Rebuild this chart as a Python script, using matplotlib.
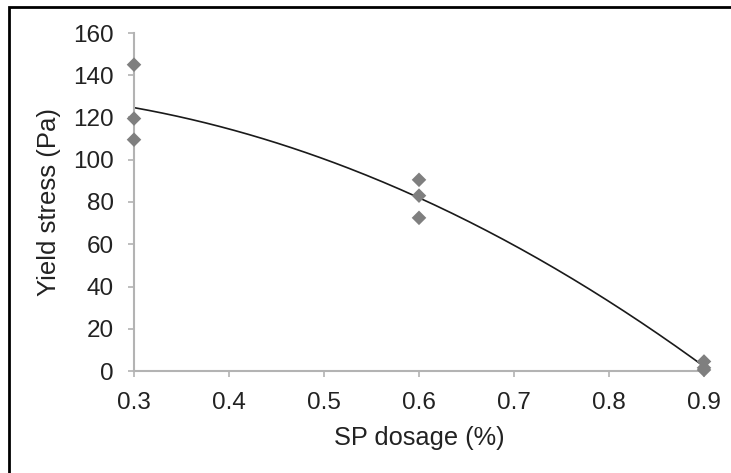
import numpy as np
import matplotlib
matplotlib.use("Agg")
import matplotlib.pyplot as plt
from matplotlib.patches import Rectangle

plt.rcParams['font.family'] = ['Liberation Sans', 'DejaVu Sans']

# measured points
sp_dosage = [0.3, 0.3, 0.3, 0.6, 0.6, 0.6, 0.9, 0.9, 0.9]
yield_stress = [145, 119.5, 109.5, 90.5, 83, 72.5, 4.5, 1.5, 0.5]

x_ticks = [0.3, 0.4, 0.5, 0.6, 0.7, 0.8, 0.9]
y_ticks = [0, 20, 40, 60, 80, 100, 120, 140, 160]

grey_axis = '#b3b3b3'
txt = '#222222'

fig = plt.figure(figsize=(7.31, 4.73), dpi=100)
ax = fig.add_axes([134 / 731, 1 - 371 / 473, (704 - 134) / 731, (371 - 33) / 473])

# polynomial (order 2) trendline, as in the spreadsheet
coef = np.polyfit(sp_dosage, yield_stress, 2)
xs = np.linspace(0.3, 0.9, 200)
ax.plot(xs, np.polyval(coef, xs), color='#1a1a1a', lw=1.2, zorder=2)

ax.scatter(sp_dosage, yield_stress, marker='D', s=55, color='#7f7f7f',
           edgecolors='none', zorder=3, clip_on=False)

ax.set_xlim(0.3, 0.9)
ax.set_ylim(0, 160)
ax.set_xticks(x_ticks)
ax.set_yticks(y_ticks)
ax.set_xticklabels([f"{v:.1f}" for v in x_ticks])
ax.tick_params(axis='both', direction='out', length=4, width=1.2,
               color=grey_axis, labelsize=17.5, labelcolor=txt)
ax.tick_params(axis='x', pad=11)
ax.tick_params(axis='y', pad=10.5)

for side in ('top', 'right'):
    ax.spines[side].set_visible(False)
for side in ('left', 'bottom'):
    ax.spines[side].set_color(grey_axis)
    ax.spines[side].set_linewidth(1.5)

ax.set_xlabel('SP dosage (%)', fontsize=18.3, color=txt, labelpad=9)
ax.set_ylabel('Yield stress (Pa)', fontsize=18.5, color=txt, labelpad=9)

# outer frame
fig.patches.append(Rectangle((9 / 731, -0.1), 1.2, 1 - 7 / 473 + 0.1,
                             transform=fig.transFigure, fill=False,
                             edgecolor='black', lw=2))

fig.savefig('out.png', dpi=100)
